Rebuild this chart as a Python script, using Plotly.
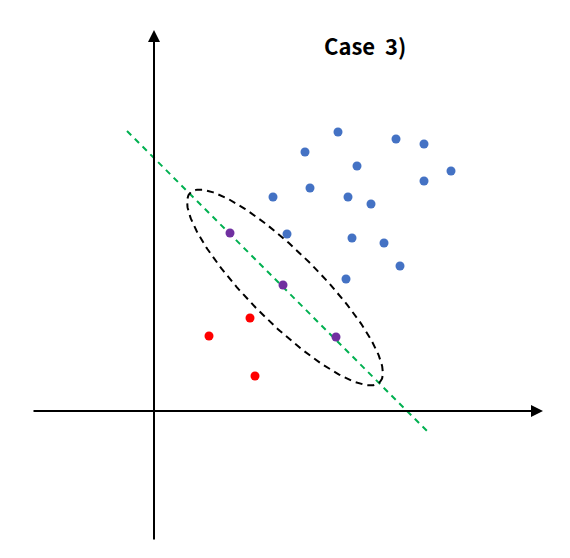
import numpy as np
import plotly.graph_objects as go

# ---- data (origin at the crossing of the two axes) ----
blue_x = [184, 242, 270, 151, 203, 297, 270, 156, 119, 194, 217, 133, 198, 230, 246, 192]
blue_y = [279, 272, 267, 259, 245, 240, 230, 223, 214, 214, 207, 177, 173, 168, 145, 132]

purple_x = [76, 129, 182]
purple_y = [178, 126, 74]

red_x = [96, 55, 101]
red_y = [93, 75, 35]

# green dashed separating line: y = line_c - x
line_c = 253
line_x = [-27, 273]

# dashed ellipse around the purple points
ell_cx, ell_cy = 131, 123.5
ell_a, ell_b = 134, 35
ell_angle_deg = -45

# axes extents
x_axis_from, x_axis_to = -122, 389
y_axis_from, y_axis_to = -130, 381

title_text = "Case&nbsp; 3)"

# ---- figure ----
fig = go.Figure()

# green line
lx = np.array(line_x, dtype=float)
fig.add_trace(go.Scatter(x=lx, y=line_c - lx, mode="lines",
                         line=dict(color="#00B050", width=2, dash="6px,5px"),
                         hoverinfo="skip"))

# ellipse
t = np.linspace(0, 2 * np.pi, 300)
th = np.deg2rad(ell_angle_deg)
ex = ell_cx + ell_a * np.cos(t) * np.cos(th) - ell_b * np.sin(t) * np.sin(th)
ey = ell_cy + ell_a * np.cos(t) * np.sin(th) + ell_b * np.sin(t) * np.cos(th)
fig.add_trace(go.Scatter(x=ex, y=ey, mode="lines",
                         line=dict(color="black", width=2, dash="7px,5px"),
                         hoverinfo="skip"))

fig.add_trace(go.Scatter(x=blue_x, y=blue_y, mode="markers",
                         marker=dict(color="#4472C4", size=9)))
fig.add_trace(go.Scatter(x=purple_x, y=purple_y, mode="markers",
                         marker=dict(color="#7030A0", size=9)))
fig.add_trace(go.Scatter(x=red_x, y=red_y, mode="markers",
                         marker=dict(color="#FF0000", size=9)))

# axes with arrowheads
for (x0, y0, x1, y1) in [(x_axis_from, 0, x_axis_to, 0), (0, y_axis_from, 0, y_axis_to)]:
    fig.add_annotation(x=x1, y=y1, ax=x0, ay=y0, xref="x", yref="y", axref="x", ayref="y",
                       showarrow=True, arrowhead=2, arrowsize=1.2, arrowwidth=2,
                       arrowcolor="black", text="", standoff=0)

fig.add_annotation(x=365 / 570, y=1 - 45 / 558, xref="paper", yref="paper",
                   text="<b>" + title_text + "</b>", showarrow=False,
                   font=dict(family="Noto Sans CJK KR, Open Sans, sans-serif", size=22, color="black"),
                   xanchor="center", yanchor="middle")

fig.update_layout(width=570, height=558, autosize=False,
                  margin=dict(l=0, r=0, t=0, b=0),
                  paper_bgcolor="white", plot_bgcolor="white",
                  showlegend=False)
fig.update_xaxes(range=[-154, 416], visible=False, fixedrange=True)
fig.update_yaxes(range=[-147, 411], visible=False, fixedrange=True)

fig.write_html("out.html", config={"displayModeBar": False},
               post_script="document.body.style.margin='0';document.body.style.overflow='hidden';")
